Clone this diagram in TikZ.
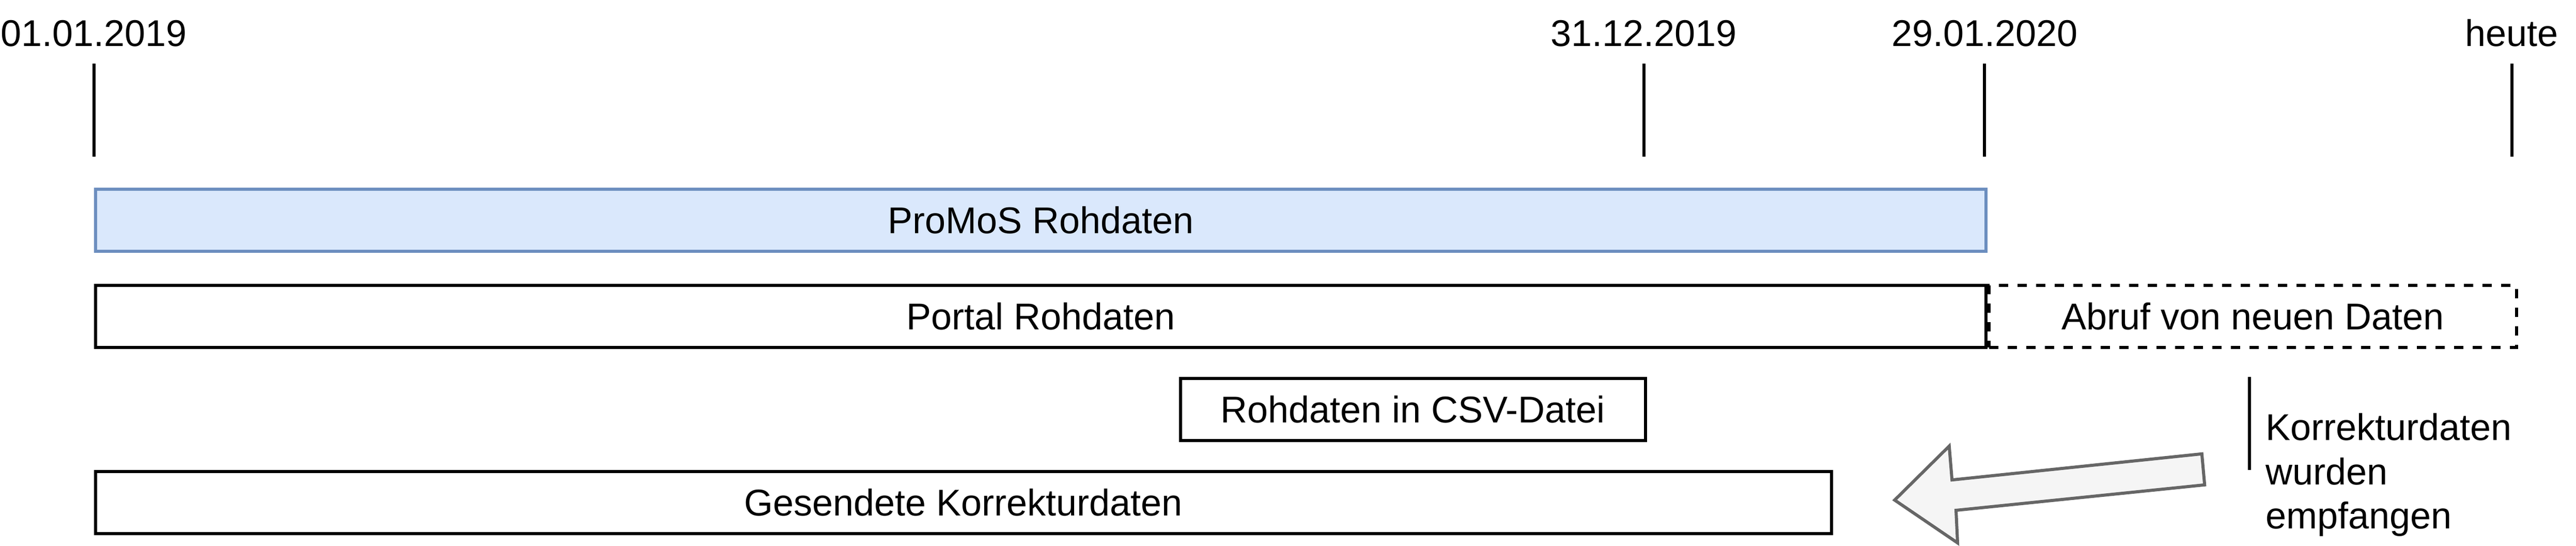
\documentclass[tikz,border=0pt]{standalone}
\usepackage{fontspec}
\setmainfont{Liberation Sans}

\definecolor{promosfill}{HTML}{DAE8FC}
\definecolor{promosrand}{HTML}{6C8EBF}
\definecolor{pfeilfill}{HTML}{F5F5F5}
\definecolor{pfeilrand}{HTML}{666666}

\tikzset{
  schrift/.style={font=\fontsize{12}{14.2}\selectfont},
  datum/.style={schrift, anchor=base, inner sep=0pt},
  strich/.style={line width=1pt},
  balken/.style={schrift, draw, line width=1pt, anchor=north west,
    minimum height=20pt, inner sep=0pt},
}

\begin{document}
\begin{tikzpicture}[x=1pt,y=-1pt]
        \useasboundingbox (0,0) rectangle (831,176);
        % Zeitpunkte
        \node[datum] (d1) at (30.3,15) {01.01.2019};
        \node[datum] (d2) at (530.3,15) {31.12.2019};
        \node[datum] (d3) at (640.2,15) {29.01.2020};
        \node[datum] (d4) at (810.3,15) {heute};
        \coordinate (s1) at (30.3,20.5);
        \coordinate (s2) at (530.3,20.5);
        \coordinate (s3) at (640.2,20.5);
        \coordinate (s4) at (810.3,20.5);
        \draw[strich] (s1) -- ++(0,30);
        \draw[strich] (s2) -- ++(0,30);
        \draw[strich] (s3) -- ++(0,30);
        \draw[strich] (s4) -- ++(0,30);
        % Balken
        \node[balken, fill=promosfill, draw=promosrand, minimum width=609.9pt] (promos) at (30.3,60.5) {ProMoS Rohdaten};
        \node[balken, minimum width=609.9pt] (portal) at (30.3,91.5) {Portal Rohdaten};
        \node[balken, dash pattern=on 3pt off 3pt, minimum width=170.1pt] (abruf) at (portal.north east) {Abruf von neuen Daten};
        \node[balken, minimum width=150pt] (csv) at (380.3,121.5) {Rohdaten in CSV-Datei};
        \node[balken, minimum width=560pt] (gesendet) at (30.3,151.5) {Gesendete Korrekturdaten};
        % Korrekturdaten
        \node[schrift, anchor=base west, align=left, inner sep=0pt] (korr) at (730.7,170.4) {Korrekturdaten\\wurden\\empfangen};
        \coordinate (k1) at (725.6,121.5);
        \draw[strich] (k1) -- ++(0,30);
        \draw[line width=1pt, draw=pfeilrand, fill=pfeilfill] (710.3,146.3) -- (629.7,154.7) -- (628.8,143.8) -- (611.2,161.2)
            -- (631.5,175) -- (631,164.5) -- (711.2,156.3) -- cycle;
    \end{tikzpicture}
\end{document}
